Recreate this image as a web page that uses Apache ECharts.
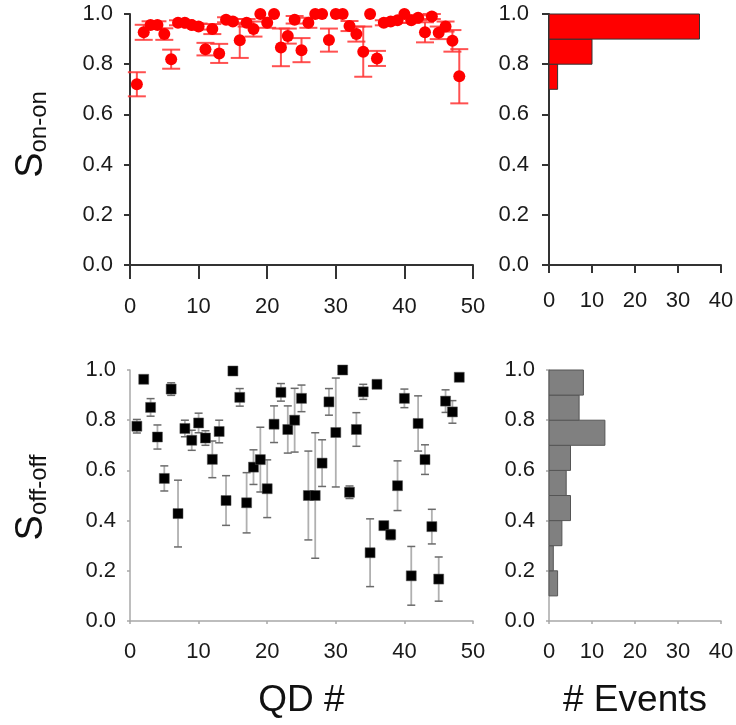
<!DOCTYPE html>
<html>
<head>
<meta charset="utf-8">
<script src="https://cdn.jsdelivr.net/npm/echarts@6/dist/echarts.min.js"></script>
<style>
html,body{margin:0;padding:0;background:#fff;}
#chart{width:736px;height:725px;}
</style>
</head>
<body>
<div id="chart"></div>
<script>
// ---- data ----
const qd = [1,2,3,4,5,6,7,8,9,10,11,12,13,14,15,16,17,18,19,20,21,22,23,24,25,26,27,28,29,30,31,32,33,34,35,36,37,38,39,40,41,42,43,44,45,46,47,48];
const onOn = [0.72,0.927,0.956,0.956,0.92,0.82,0.965,0.965,0.956,0.95,0.86,0.94,0.843,0.977,0.97,0.895,0.965,0.94,1.0,0.965,1.0,0.867,0.912,0.977,0.856,0.965,1.0,1.0,0.896,1.0,1.0,0.952,0.92,0.85,1.0,0.823,0.965,0.97,0.975,1.0,0.975,0.985,0.927,0.99,0.925,0.95,0.893,0.752];
const onOnErr = [0.048,0.03,0.015,0.015,0.023,0.038,0.01,0.01,0.01,0.012,0.025,0.02,0.038,0.01,0.01,0.07,0.015,0.03,0,0.02,0,0.075,0.03,0.015,0.048,0.02,0,0,0.046,0,0,0.02,0.03,0.1,0,0.03,0.01,0.01,0.01,0,0.01,0.01,0.04,0.01,0.025,0.02,0.043,0.108];
const offOff = [0.776,0.963,0.851,0.733,0.568,0.924,0.428,0.767,0.72,0.789,0.729,0.644,0.755,0.48,0.996,0.891,0.471,0.613,0.643,0.527,0.784,0.911,0.763,0.80,0.887,0.50,0.50,0.629,0.873,0.751,1.0,0.513,0.763,0.913,0.272,0.943,0.38,0.344,0.539,0.887,0.18,0.787,0.643,0.376,0.167,0.876,0.833,0.971];
const offOffErr = [0.027,0,0.035,0.048,0.05,0.025,0.133,0.033,0.04,0.039,0.029,0.073,0.045,0.099,0,0.035,0.12,0.069,0.129,0.115,0.073,0.035,0.094,0.127,0.053,0.177,0.25,0.093,0.053,0.217,0,0.025,0.067,0.03,0.135,0,0.015,0.02,0.099,0.037,0.117,0.11,0.059,0.069,0.088,0.045,0.045,0];
const binLow = [0.0,0.1,0.2,0.3,0.4,0.5,0.6,0.7,0.8,0.9];
const binWidth = 0.1;
const onCounts = [0,0,0,0,0,0,0,2,10,35];
const offCounts = [0,2,1,3,5,4,5,13,7,8];

// ---- build ----
const FONT = "'Liberation Sans', Arial, Helvetica, sans-serif";
const chart = echarts.init(document.getElementById('chart'), null, {renderer:'canvas'});

function errData(vals, errs){ return qd.map((x,i)=>[x, vals[i]-errs[i], vals[i]+errs[i], errs[i]]); }
function histData(counts){ return binLow.map((lo,i)=>[lo, lo+binWidth, counts[i]]).filter(d=>d[2]>0); }

function errRender(lineColor, capColor, lineW, capW, capHalf){
  return function(params, api){
    const x = api.value(0), lo = api.value(1), hi = api.value(2), e = api.value(3);
    if (e <= 0) return null;
    const pLo = api.coord([x, lo]), pHi = api.coord([x, hi]);
    return {type:'group', children:[
      {type:'line', shape:{x1:pLo[0],y1:pLo[1],x2:pHi[0],y2:pHi[1]}, style:{stroke:lineColor,lineWidth:lineW}},
      {type:'line', shape:{x1:pLo[0]-capHalf,y1:pLo[1],x2:pLo[0]+capHalf,y2:pLo[1]}, style:{stroke:capColor,lineWidth:capW}},
      {type:'line', shape:{x1:pHi[0]-capHalf,y1:pHi[1],x2:pHi[0]+capHalf,y2:pHi[1]}, style:{stroke:capColor,lineWidth:capW}}
    ]};
  };
}
function histRender(fill, stroke){
  return function(params, api){
    const lo = api.value(0), hi = api.value(1), c = api.value(2);
    const p0 = api.coord([0, lo]), p1 = api.coord([c, hi]);
    return {type:'rect', shape:{x:p0[0], y:p1[1], width:p1[0]-p0[0], height:p0[1]-p1[1]},
      style:{fill:fill, stroke:stroke, lineWidth:1}};
  };
}

const dark = '#333';
const grey = '#a8a8a8';
function xAx(grid, max, color, tickLen, margin, extra){
  return Object.assign({type:'value', gridIndex:grid, min:0, max:max, interval:10,
    axisLine:{show:true, onZero:false, lineStyle:{color:color, width: color===dark?2:1.5}},
    axisTick:{show:true, length:tickLen, lineStyle:{color:color, width: color===dark?2:1.5}},
    splitLine:{show:false},
    axisLabel:{fontFamily:FONT, fontSize:22, color:'#1a1a1a', margin:margin}}, extra||{});
}
function yAx(grid, color, tickLen, margin, showLabel, extra){
  return Object.assign({type:'value', gridIndex:grid, min:0, max:1, interval:0.2,
    axisLine:{show:true, onZero:false, lineStyle:{color:color, width: color===dark?2:1.5}},
    axisTick:{show:true, length:tickLen, lineStyle:{color:color, width: color===dark?2:1.5}},
    splitLine:{show:false},
    axisLabel:{show:showLabel, fontFamily:FONT, fontSize:22, color:'#1a1a1a', margin:margin,
      formatter:v=>v.toFixed(1)}}, extra||{});
}
function yName(sub, pad){
  return {
    name:'{s|S}{b|' + sub + '}', nameLocation:'middle', nameRotate:90, nameGap:79,
    nameTextStyle:{padding:pad, rich:{
      s:{fontFamily:FONT, fontSize:38, lineHeight:38, color:'#111', verticalAlign:'top'},
      b:{fontFamily:FONT, fontSize:24, lineHeight:24, color:'#111', verticalAlign:'bottom', padding:[29,0,0,0]}
    }}
  };
}

const option = {
  animation:false,
  backgroundColor:'#fff',
  grid:[
    {left:130, top:14, width:343, height:251, outerBoundsMode:'none', containLabel:false},
    {left:549, top:14, width:172, height:251, outerBoundsMode:'none', containLabel:false},
    {left:130, top:370, width:343, height:251, outerBoundsMode:'none', containLabel:false},
    {left:549, top:370, width:172, height:251, outerBoundsMode:'none', containLabel:false}
  ],
  xAxis:[
    xAx(0, 50, dark, 14, 31),
    xAx(1, 40, dark, 8, 25),
    xAx(2, 50, grey, 3, 20, {name:'QD #', nameLocation:'middle', nameGap:61,
      nameTextStyle:{fontFamily:FONT, fontSize:37, color:'#111', verticalAlign:'top'}}),
    xAx(3, 40, grey, 3, 20, {name:'# Events', nameLocation:'middle', nameGap:61,
      nameTextStyle:{fontFamily:FONT, fontSize:37, color:'#111', verticalAlign:'top'}})
  ],
  yAxis:[
    yAx(0, dark, 6, 17, true, yName('on-on', [0,0,0,10])),
    yAx(1, dark, 7, 20, true),
    yAx(2, grey, 3, 14, true, yName('off-off', [0,4,0,0])),
    yAx(3, grey, 3, 14, true)
  ],
  series:[
    {type:'custom', xAxisIndex:0, yAxisIndex:0, renderItem:errRender('rgba(255,50,50,0.85)','rgba(255,50,50,0.85)',2,2,9),
      data:errData(onOn, onOnErr), encode:{x:0, y:[1,2]}, z:1},
    {type:'scatter', xAxisIndex:0, yAxisIndex:0, symbol:'circle', symbolSize:12,
      itemStyle:{color:'#ff0000', opacity:1}, data:qd.map((x,i)=>[x, onOn[i]]), z:2},
    {type:'custom', xAxisIndex:1, yAxisIndex:1, renderItem:histRender('#ff0000','#333'),
      data:histData(onCounts), encode:{x:2, y:[0,1]}},
    {type:'custom', xAxisIndex:2, yAxisIndex:2, renderItem:errRender('#b0b0b0','#6a6a6a',1.8,1.5,4),
      data:errData(offOff, offOffErr), encode:{x:0, y:[1,2]}, z:1},
    {type:'scatter', xAxisIndex:2, yAxisIndex:2, symbol:'rect', symbolSize:10,
      itemStyle:{color:'#000', borderColor:'#555', borderWidth:0.5, opacity:1}, data:qd.map((x,i)=>[x, offOff[i]]), z:2},
    {type:'custom', xAxisIndex:3, yAxisIndex:3, renderItem:histRender('#808080','#555'),
      data:histData(offCounts), encode:{x:2, y:[0,1]}}
  ]
};
chart.setOption(option);
</script>
</body>
</html>
